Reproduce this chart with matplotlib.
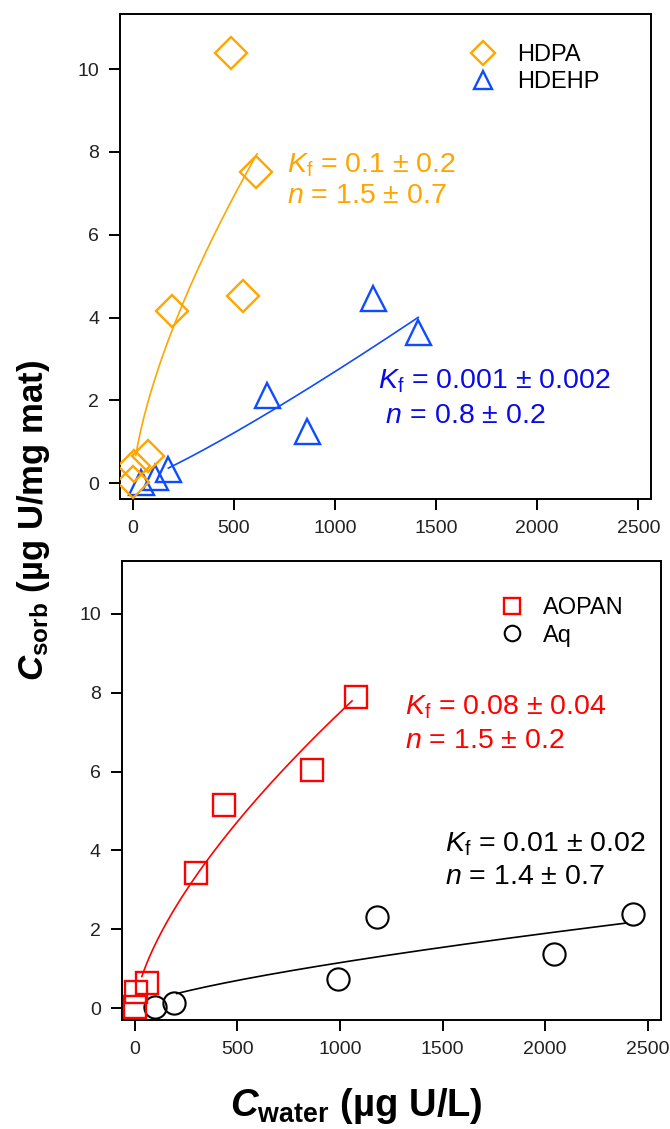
import numpy as np
import matplotlib
matplotlib.use("Agg")
import matplotlib.pyplot as plt

plt.rcParams['font.family'] = ['Liberation Sans', 'DejaVu Sans']
plt.rcParams['mathtext.fontset'] = 'custom'
plt.rcParams['mathtext.rm'] = 'Liberation Sans'
plt.rcParams['mathtext.it'] = 'Liberation Sans:italic'
plt.rcParams['mathtext.bf'] = 'Liberation Sans:bold'
plt.rcParams['mathtext.bfit'] = 'Liberation Sans:italic:bold'

# ---------------- data ----------------
hdpa_x = [0, 8, 75, 192, 543, 612, 485]
hdpa_y = [0.03, 0.42, 0.65, 4.16, 4.53, 7.52, 10.38]
hdehp_x = [40, 110, 176, 666, 863, 1190, 1412]
hdehp_y = [0.02, 0.16, 0.35, 2.13, 1.27, 4.48, 3.65]
aopan_x = [0, 8, 62, 298, 437, 863, 1077]
aopan_y = [0.03, 0.42, 0.65, 3.42, 5.16, 6.04, 7.90]
aq_x = [98, 192, 991, 1179, 2041, 2426]
aq_y = [0.04, 0.14, 0.74, 2.32, 1.37, 2.39]

# Freundlich fit curves: C_sorb = K * C_water^(1/n), drawn over [xmin, xmax]
fit_hdpa = dict(K=0.11, n=1.5, xmin=15, xmax=615)
fit_hdehp = dict(K=0.00096, n=0.87, xmin=176, xmax=1412)
fit_aopan = dict(K=0.075, n=1.5, xmin=35, xmax=1059)
fit_aq = dict(K=0.00816, n=1.395, xmin=205, xmax=2396)

labels_top = ['HDPA', 'HDEHP']
labels_bot = ['AOPAN', 'Aq']
ann_hdpa = [r'$K_\mathregular{f}$ = 0.1 ± 0.2', r'$n$ = 1.5 ± 0.7']
ann_hdehp = [r'$K_\mathregular{f}$ = 0.001 ± 0.002', r' $n$ = 0.8 ± 0.2']
ann_aopan = [r'$K_\mathregular{f}$ = 0.08 ± 0.04', r'$n$ = 1.5 ± 0.2']
ann_aq = [r'$K_\mathregular{f}$ = 0.01 ± 0.02', r'$n$ = 1.4 ± 0.7']

xticks = [0, 500, 1000, 1500, 2000, 2500]
yticks = [0, 2, 4, 6, 8, 10]

ORANGE = '#FFA500'
BLUE = '#0F4BFF'
BLUE_TXT = '#0A0AE6'
RED = '#FF0000'
BLACK = '#000000'

W, H = 670, 1129
fig = plt.figure(figsize=(W / 100, H / 100), dpi=100)

def px_axes(l, r, t, b):
    return [l / W, 1 - b / H, (r - l) / W, (b - t) / H]

ax1 = fig.add_axes(px_axes(120, 651, 14, 499))
ax2 = fig.add_axes(px_axes(121.7, 660.8, 561, 1020))

def style(ax, ylim):
    ax.set_xlim(-63, 2563)
    ax.set_ylim(*ylim)
    ax.set_xticks(xticks)
    ax.set_yticks(yticks)
    for s in ax.spines.values():
        s.set_linewidth(1.4)
    ax.tick_params(direction='out', length=8, width=1.4, labelsize=14,
                   labelcolor='#222222', pad=7)

def fit_curve(ax, p, color):
    xs = np.linspace(p['xmin'], p['xmax'], 200)
    ax.plot(xs, p['K'] * xs ** (1.0 / p['n']), color=color, lw=1.2, zorder=2)

mew = 1.7
# top panel
style(ax1, (-0.38, 11.33))
fit_curve(ax1, fit_hdpa, ORANGE)
fit_curve(ax1, fit_hdehp, BLUE)
ax1.plot(hdehp_x, hdehp_y, ls='none', marker='^', ms=18, mfc='none',
         mec=BLUE, mew=mew, label=labels_top[1], zorder=3)
ax1.plot(hdpa_x, hdpa_y, ls='none', marker='D', ms=16, mfc='none',
         mec=ORANGE, mew=mew, label=labels_top[0], zorder=4)
h, l = ax1.get_legend_handles_labels()
ax1.legend(h[::-1], l[::-1], loc='upper left', bbox_to_anchor=(0.662, 0.938),
           frameon=False, fontsize=17, markerscale=0.75, handlelength=1.0,
           handletextpad=0.95, labelspacing=0.2, borderpad=0, borderaxespad=0)

fs_ann = 20.5
ax1.text(763, 7.68, ann_hdpa[0], color=ORANGE, fontsize=fs_ann, va='center', ha='left')
ax1.text(763, 6.93, ann_hdpa[1], color=ORANGE, fontsize=fs_ann, va='center', ha='left')
ax1.text(1212, 2.46, ann_hdehp[0], color=BLUE_TXT, fontsize=fs_ann, va='center', ha='left')
ax1.text(1212, 1.63, ann_hdehp[1], color=BLUE_TXT, fontsize=fs_ann, va='center', ha='left')

# bottom panel
style(ax2, (-0.30, 11.34))
fit_curve(ax2, fit_aopan, RED)
fit_curve(ax2, fit_aq, BLACK)
ax2.plot(aq_x, aq_y, ls='none', marker='o', ms=16, mfc='none',
         mec=BLACK, mew=1.5, label=labels_bot[1], zorder=3)
ax2.plot(aopan_x, aopan_y, ls='none', marker='s', ms=16.5, mfc='none',
         mec=RED, mew=mew, label=labels_bot[0], zorder=4)
h, l = ax2.get_legend_handles_labels()
ax2.legend(h[::-1], l[::-1], loc='upper left', bbox_to_anchor=(0.702, 0.922),
           frameon=False, fontsize=17, markerscale=0.7, handlelength=1.0,
           handletextpad=0.8, labelspacing=0.25, borderpad=0, borderaxespad=0)

ax2.text(1318, 7.64, ann_aopan[0], color=RED, fontsize=fs_ann, va='center', ha='left')
ax2.text(1318, 6.78, ann_aopan[1], color=RED, fontsize=fs_ann, va='center', ha='left')
ax2.text(1514, 4.15, ann_aq[0], color=BLACK, fontsize=fs_ann, va='center', ha='left')
ax2.text(1514, 3.32, ann_aq[1], color=BLACK, fontsize=fs_ann, va='center', ha='left')

# axis labels
fig.text(356 / W, 1 - 1106 / H, r'$\mathbfit{C}_\mathbf{water}$ (µg U/L)',
         fontsize=27.5, fontweight='bold', ha='center', va='center')
fig.text(34 / W, 1 - 520 / H, r'$\mathbfit{C}_\mathbf{sorb}$ (µg U/mg mat)',
         fontsize=25, fontweight='bold', ha='center', va='center', rotation=90)

fig.savefig('out.png', dpi=100)
